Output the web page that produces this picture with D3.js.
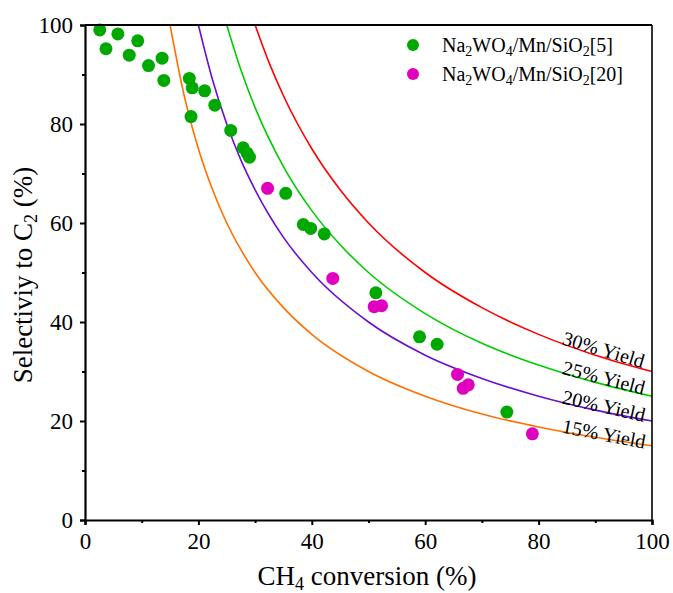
<!DOCTYPE html>
<html>
<head>
  <meta charset="utf-8">
  <title>Selectivity vs conversion</title>
  <script src="https://d3js.org/d3.v7.min.js"></script>
  <style>
    body { margin: 0; background: #fff; }
    text { font-family: "Liberation Serif", "Times New Roman", serif; fill: #000; }
  </style>
</head>
<body>
<div id="chart"></div>
<script>
  // scatter data: CH4 conversion (%) and C2 selectivity (%)
  var ref5Conv = [2.6, 5.8, 3.7, 9.3, 7.8, 11.2, 13.6, 13.9, 18.4, 18.9, 21.1, 22.9, 18.7,
                  25.7, 27.9, 28.6, 29.0, 35.4, 38.5, 39.8, 42.2, 51.3, 59.0, 62.1, 74.4];
  var ref5Sel = [99.0, 98.2, 95.2, 96.8, 93.9, 91.8, 93.3, 88.8, 89.2, 87.3, 86.7, 83.8, 81.5,
                 78.7, 75.2, 74.1, 73.3, 66.0, 59.7, 58.9, 57.8, 45.9, 37.0, 35.5, 21.8];
  var ref20Conv = [32.2, 43.7, 51.0, 52.3, 65.7, 66.7, 67.6, 78.9];
  var ref20Sel = [67.0, 48.8, 43.1, 43.3, 29.4, 26.6, 27.3, 17.4];

  // iso-yield lines, points [conversion, selectivity]
  var yield15 = [[15, 100], [17.5, 85.7], [20, 75], [22.5, 66.7], [25, 60], [30, 50], [35, 42.9],
                 [40, 37.5], [50, 30], [60, 25], [70, 21.4], [80, 18.8], [90, 16.7], [100, 15]];
  var yield20 = [[20, 100], [22.5, 88.9], [25, 80], [27.5, 72.7], [30, 66.7], [35, 57.1], [40, 50],
                 [50, 40], [60, 33.3], [70, 28.6], [80, 25], [90, 22.2], [100, 20]];
  var yield25 = [[25, 100], [27.5, 90.9], [30, 83.3], [35, 71.4], [40, 62.5], [45, 55.6], [50, 50],
                 [60, 41.7], [70, 35.7], [80, 31.3], [90, 27.8], [100, 25]];
  var yield30 = [[30, 100], [32.5, 92.3], [35, 85.7], [40, 75], [45, 66.7], [50, 60], [60, 50],
                 [70, 42.9], [80, 37.5], [90, 33.3], [100, 30]];

  var yieldNames = ["15% Yield", "20% Yield", "25% Yield", "30% Yield"];
  var legendNames = [["Na", "2", "WO", "4", "/Mn/SiO", "2", "[5]"],
                     ["Na", "2", "WO", "4", "/Mn/SiO", "2", "[20]"]];
  var majorTicks = [0, 20, 40, 60, 80, 100];
  var minorTicks = [10, 30, 50, 70, 90];

  var serif = "'Liberation Serif', 'Times New Roman', serif";
  var width = 673, height = 593;
  var svg = d3.select("#chart").append("svg")
    .attr("width", width).attr("height", height)
    .attr("font-family", serif);

  var x = d3.scaleLinear().domain([0, 100]).range([85, 652]);
  var y = d3.scaleLinear().domain([0, 100]).range([520, 25]);

  // iso-yield curves
  var curves = [
    { pts: yield15, color: "#ff7000", name: yieldNames[0], rot: 11 },
    { pts: yield20, color: "#6a0fd0", name: yieldNames[1], rot: 13 },
    { pts: yield25, color: "#00cc00", name: yieldNames[2], rot: 14.5 },
    { pts: yield30, color: "#ff0000", name: yieldNames[3], rot: 16.5 }
  ];
  var line = d3.line()
    .x(function(d) { return x(d[0]); })
    .y(function(d) { return y(d[1]); })
    .curve(d3.curveMonotoneX);

  svg.selectAll(".yline").data(curves).enter()
    .append("path")
    .attr("class", "yline")
    .attr("d", function(d) { return line(d.pts); })
    .attr("fill", "none")
    .attr("stroke", function(d) { return d.color; })
    .attr("stroke-width", 1.6);

  // labels sitting on the curves near the right edge
  svg.selectAll(".ylabel").data(curves).enter()
    .append("text")
    .attr("class", "ylabel")
    .attr("transform", function(d) {
      var lvl = parseFloat(d.name);
      var px = x(84), py = y(lvl * 100 / 84) + 1;
      return "translate(" + px + "," + py + ") rotate(" + d.rot + ")";
    })
    .style("font-family", serif)
    .style("font-size", "20px")
    .text(function(d) { return d.name; });

  // scatter points
  var r5 = ref5Conv.map(function(c, i) { return [c, ref5Sel[i]]; });
  var r20 = ref20Conv.map(function(c, i) { return [c, ref20Sel[i]]; });

  svg.selectAll(".p5").data(r5).enter()
    .append("circle").attr("class", "p5")
    .attr("cx", function(d) { return x(d[0]); })
    .attr("cy", function(d) { return y(d[1]); })
    .attr("r", 6.5)
    .attr("fill", "#00a800");

  svg.selectAll(".p20").data(r20).enter()
    .append("circle").attr("class", "p20")
    .attr("cx", function(d) { return x(d[0]); })
    .attr("cy", function(d) { return y(d[1]); })
    .attr("r", 6.5)
    .attr("fill", "#e000c0");

  // axes
  svg.append("g").attr("transform", "translate(0,520)")
    .call(d3.axisBottom(x).tickValues(majorTicks).tickSize(5).tickPadding(8));
  svg.append("g").attr("transform", "translate(0,520)")
    .call(d3.axisBottom(x).tickValues(minorTicks).tickSize(3).tickFormat(""))
    .select(".domain").remove();
  svg.append("g").attr("transform", "translate(85,0)")
    .call(d3.axisLeft(y).tickValues(majorTicks).tickSize(5).tickPadding(7));
  svg.append("g").attr("transform", "translate(85,0)")
    .call(d3.axisLeft(y).tickValues(minorTicks).tickSize(3).tickFormat(""))
    .select(".domain").remove();

  svg.selectAll("g").attr("font-family", serif);
  svg.selectAll(".domain").attr("stroke-width", 2.2);
  svg.selectAll(".tick line").attr("stroke-width", 2);
  svg.selectAll(".tick text")
    .style("font-family", serif)
    .style("font-size", "23px");

  // top and right frame
  svg.append("line").attr("x1", 85).attr("x2", 652).attr("y1", 25).attr("y2", 25)
    .attr("stroke", "#000").attr("stroke-width", 2);
  svg.append("line").attr("x1", 652).attr("x2", 652).attr("y1", 25).attr("y2", 520)
    .attr("stroke", "#000").attr("stroke-width", 1.6);

  // axis titles
  var xt = svg.append("text")
    .attr("x", 367).attr("y", 585)
    .attr("text-anchor", "middle")
    .style("font-family", serif)
    .style("font-size", "27px");
  xt.append("tspan").text("CH");
  xt.append("tspan").attr("dy", 5).style("font-size", "18px").text("4");
  xt.append("tspan").attr("dy", -5).text(" conversion (%)");

  var yt = svg.append("text")
    .attr("transform", "translate(32,275) rotate(-90)")
    .attr("text-anchor", "middle")
    .style("font-family", serif)
    .style("font-size", "27px");
  yt.append("tspan").text("Selectiviy to C");
  yt.append("tspan").attr("dy", 5).style("font-size", "18px").text("2");
  yt.append("tspan").attr("dy", -5).text(" (%)");

  // legend
  var legColors = ["#00a800", "#e000c0"];
  var leg = svg.selectAll(".leg").data(legendNames).enter()
    .append("g").attr("class", "leg")
    .attr("transform", function(d, i) { return "translate(413," + (45 + i * 29) + ")"; });
  leg.append("circle").attr("r", 6)
    .attr("fill", function(d, i) { return legColors[i]; });
  leg.each(function(parts) {
    var t = d3.select(this).append("text")
      .attr("x", 29).attr("y", 7)
      .style("font-family", serif)
      .style("font-size", "20px");
    parts.forEach(function(p, k) {
      var sub = k % 2 === 1;
      t.append("tspan")
        .attr("dy", sub ? 4 : (k > 0 ? -4 : 0))
        .style("font-size", sub ? "14px" : "20px")
        .text(p);
    });
  });
</script>
</body>
</html>
